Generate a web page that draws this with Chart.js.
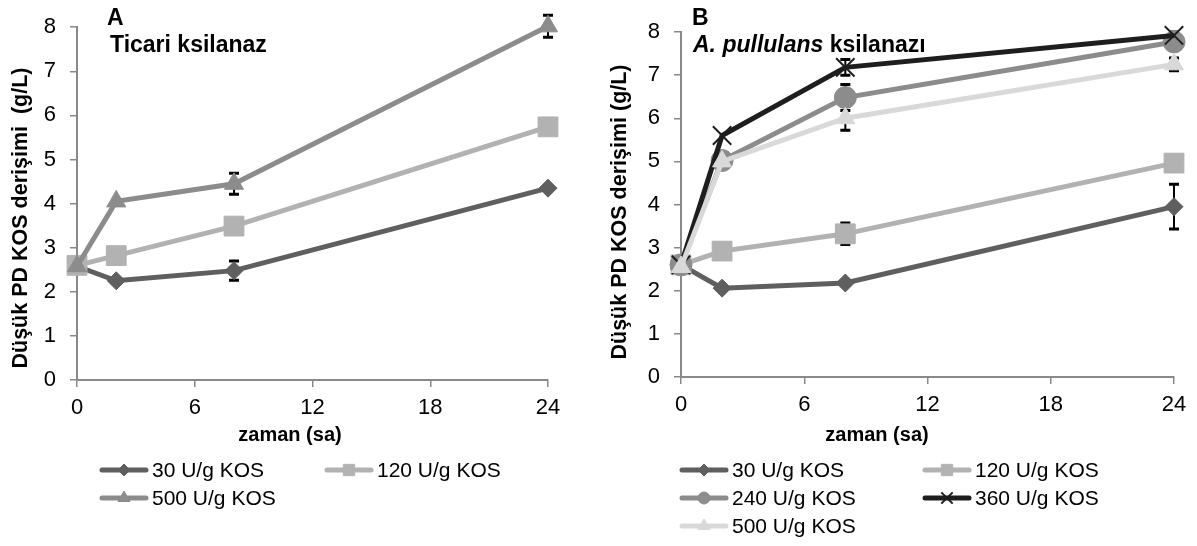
<!DOCTYPE html>
<html>
<head>
<meta charset="utf-8">
<script src="https://cdn.jsdelivr.net/npm/chart.js@4.4.1/dist/chart.umd.min.js"></script>
<style>
  html, body { margin: 0; padding: 0; background: #fff; }
  #wrap { position: relative; width: 1197px; height: 546px; }
  .panel { position: absolute; top: 0; }
  #panel-a { left: 0; }
  #panel-b { left: 590px; }
</style>
</head>
<body>
<div id="wrap">
  <div class="panel" id="panel-a"><canvas id="chart-a" width="590" height="546"></canvas></div>
  <div class="panel" id="panel-b"><canvas id="chart-b" width="607" height="546"></canvas></div>
</div>
<script>
const FONT = '"Liberation Sans", Arial, sans-serif';

// sampling times (h)
const hours = [0, 2, 8, 24];
const hourTicks = [0, 6, 12, 18, 24];

// A: commercial xylanase
const ticari30 = [2.58, 2.25, 2.48, 4.35];
const ticari120 = [2.6, 2.82, 3.49, 5.74];
const ticari500 = [2.58, 4.05, 4.45, 8.02];
const ticari30Err = [0, 0, 0.22, 0.04];
const ticari120Err = [0, 0, 0.05, 0.05];
const ticari500Err = [0, 0, 0.24, 0.25];

// B: A. pullulans xylanase
const pull30 = [2.6, 2.06, 2.18, 3.95];
const pull120 = [2.6, 2.92, 3.32, 4.96];
const pull240 = [2.6, 5.02, 6.48, 7.77];
const pull360 = [2.6, 5.6, 7.18, 7.92];
const pull500 = [2.55, 5.0, 6.0, 7.25];
const pull30Err = [0, 0, 0.05, 0.52];
const pull120Err = [0, 0, 0.25, 0.05];
const pull240Err = [0, 0, 0.3, 0.1];
const pull360Err = [0, 0, 0.18, 0.08];
const pull500Err = [0, 0, 0.28, 0.15];

const doseLabels = ['30 U/g KOS', '120 U/g KOS', '240 U/g KOS', '360 U/g KOS', '500 U/g KOS'];

const STYLE = {
  d30:  { color: '#5f5f5f', pointStyle: 'rectRot', radius: 9, legendRadius: 6 },
  d120: { color: '#b2b2b2', pointStyle: 'rect', radius: 14, legendRadius: 8 },
  d240: { color: '#8c8c8c', pointStyle: 'circle', radius: 11, legendRadius: 6 },
  d360: { color: '#1e1e1e', pointStyle: 'crossRot', radius: 13, legendRadius: 8 },
  d500a: { color: '#8c8c8c', pointStyle: 'triangle', radius: 11, legendRadius: 7 },
  d500b: { color: '#d9d9d9', pointStyle: 'triangle', radius: 11, legendRadius: 7 }
};

// later series are drawn on top of earlier ones
function series(idx, label, values, errors, style) {
  return {
    label,
    data: hours.map((h, i) => ({ x: h, y: values[i] })),
    errors,
    order: 10 - idx,
    borderColor: style.color,
    backgroundColor: style.color,
    borderWidth: 5,
    pointStyle: style.pointStyle,
    pointRadius: style.radius,
    pointBorderWidth: style.pointStyle === 'crossRot' ? 2 : 1,
    pointBorderColor: style.color,
    pointBackgroundColor: style.color,
    legendRadius: style.legendRadius,
    tension: 0,
    clip: false
  };
}

/* Error bars (behind the series), panel titles, axis titles and the line+marker legend */
const panelDecor = {
  id: 'panelDecor',
  beforeDatasetsDraw(chart) {
    const { ctx, scales: { x, y } } = chart;
    ctx.save();
    ctx.strokeStyle = '#000';
    chart.data.datasets.forEach((ds) => {
      ds.data.forEach((p, i) => {
        const err = ds.errors[i];
        if (!err) return;
        const px = x.getPixelForValue(p.x);
        const top = y.getPixelForValue(p.y + err);
        const bot = y.getPixelForValue(p.y - err);
        ctx.lineWidth = 2;
        ctx.beginPath();
        ctx.moveTo(px, top);
        ctx.lineTo(px, bot);
        ctx.stroke();
        ctx.lineWidth = 3;
        ctx.beginPath();
        ctx.moveTo(px - 5, top); ctx.lineTo(px + 5, top);
        ctx.moveTo(px - 5, bot); ctx.lineTo(px + 5, bot);
        ctx.stroke();
      });
    });
    ctx.restore();
  },
  afterDraw(chart, args, opts) {
    const { ctx } = chart;
    ctx.save();
    ctx.fillStyle = '#000';
    ctx.textBaseline = 'middle';
    ctx.textAlign = 'left';

    // panel letter + enzyme name
    ctx.font = 'bold 23px ' + FONT;
    ctx.fillText(opts.letter, opts.letterX, 19);
    let tx = opts.nameX;
    opts.name.forEach((part) => {
      ctx.font = (part.italic ? 'italic ' : '') + 'bold 23px ' + FONT;
      ctx.fillText(part.text, tx, 46);
      tx += ctx.measureText(part.text).width;
    });

    // x axis title
    ctx.font = 'bold 20px ' + FONT;
    ctx.textAlign = 'center';
    ctx.fillText('zaman (sa)', opts.xTitleX, 435);

    // y axis title
    ctx.font = 'bold 21.5px ' + FONT;
    ctx.save();
    ctx.translate(opts.yTitleX, opts.yTitleY);
    ctx.rotate(-Math.PI / 2);
    ctx.fillText(opts.yTitle, 0, 0);
    ctx.restore();

    // legend, two columns
    ctx.font = '21px ' + FONT;
    ctx.textAlign = 'left';
    chart.data.datasets.forEach((ds, i) => {
      const col = i % 2;
      const row = Math.floor(i / 2);
      const lx = opts.legendCols[col];
      const ly = 470 + row * 28;
      ctx.strokeStyle = ds.borderColor;
      ctx.lineWidth = 5;
      ctx.lineCap = 'round';
      ctx.beginPath();
      ctx.moveTo(lx + 2, ly);
      ctx.lineTo(lx + 46, ly);
      ctx.stroke();
      ctx.lineCap = 'butt';
      ctx.fillStyle = ds.backgroundColor;
      ctx.strokeStyle = ds.borderColor;
      ctx.lineWidth = ds.pointBorderWidth;
      Chart.helpers.drawPoint(ctx, {
        pointStyle: ds.pointStyle,
        radius: ds.legendRadius,
        rotation: 0,
        borderWidth: ds.pointBorderWidth
      }, lx + 24, ly);
      ctx.fillStyle = '#000';
      ctx.fillText(ds.label, lx + 52, ly + 1);
    });
    ctx.restore();
  }
};

function chartOptions(pad, yWidth, axisBottom, decor) {
  const tickFont = { family: FONT, size: 22 };
  return {
    responsive: false,
    animation: false,
    layout: { padding: pad },
    plugins: {
      legend: { display: false },
      tooltip: { enabled: false },
      panelDecor: decor
    },
    scales: {
      x: {
        type: 'linear',
        min: 0,
        max: 24,
        afterBuildTicks: (s) => { s.ticks = hourTicks.map((v) => ({ value: v })); },
        afterFit: (s) => { s.height = 546 - axisBottom; },
        ticks: { color: '#000', font: tickFont, padding: 8, maxRotation: 0 },
        grid: { drawOnChartArea: false, color: '#898989', lineWidth: 1.5, tickLength: 7 },
        border: { color: '#898989', width: 2 }
      },
      y: {
        min: 0,
        max: 8,
        afterFit: (s) => { s.width = yWidth; },
        ticks: { stepSize: 1, color: '#000', font: tickFont, padding: 14 },
        grid: { drawOnChartArea: false, color: '#898989', lineWidth: 1.5, tickLength: 7 },
        border: { color: '#898989', width: 2 }
      }
    }
  };
}

Chart.register(panelDecor);

new Chart(document.getElementById('chart-a'), {
  type: 'line',
  data: {
    datasets: [
      series(0, doseLabels[0], ticari30, ticari30Err, STYLE.d30),
      series(1, doseLabels[1], ticari120, ticari120Err, STYLE.d120),
      series(2, doseLabels[4], ticari500, ticari500Err, STYLE.d500a)
    ]
  },
  options: chartOptions({ top: 25, right: 42, left: 0, bottom: 0 }, 77, 380, {
    letter: 'A', letterX: 107,
    name: [{ text: 'Ticari ksilanaz' }], nameX: 110,
    xTitleX: 290,
    yTitle: 'Düşük PD KOS derişimi  (g/L)', yTitleX: 21, yTitleY: 218,
    legendCols: [100, 325]
  })
});

new Chart(document.getElementById('chart-b'), {
  type: 'line',
  data: {
    datasets: [
      series(0, doseLabels[0], pull30, pull30Err, STYLE.d30),
      series(1, doseLabels[1], pull120, pull120Err, STYLE.d120),
      series(2, doseLabels[2], pull240, pull240Err, STYLE.d240),
      series(3, doseLabels[3], pull360, pull360Err, STYLE.d360),
      series(4, doseLabels[4], pull500, pull500Err, STYLE.d500b)
    ]
  },
  options: chartOptions({ top: 32, right: 23, left: 0, bottom: 0 }, 91, 377, {
    letter: 'B', letterX: 102,
    name: [{ text: 'A. pullulans', italic: true }, { text: ' ksilanazı' }], nameX: 103,
    xTitleX: 287,
    yTitle: 'Düşük PD KOS derişimi (g/L)', yTitleX: 30, yTitleY: 212,
    legendCols: [90, 333]
  })
});
</script>
</body>
</html>
